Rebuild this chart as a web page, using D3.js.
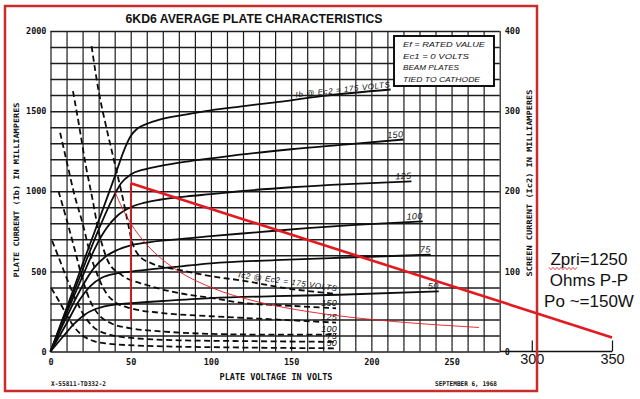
<!DOCTYPE html>
<html>
<head>
<meta charset="utf-8">
<script src="https://cdn.jsdelivr.net/npm/d3@7/dist/d3.min.js"></script>
<style>
  body { margin: 0; background: #fff; }
  svg { display: block; }
  .lbl { font-family: "DejaVu Sans Mono", monospace; font-weight: bold; fill: #111; }
  .hand { font-family: "Liberation Sans", Arial, sans-serif; font-style: italic; fill: #111; }
  .note { font-family: "Liberation Sans", Arial, sans-serif; fill: #111; }
</style>
</head>
<body>
<div id="chart"></div>
<script>
// axis ticks
var voltTicks = [0, 50, 100, 150, 200, 250];
var extTicks = [300, 350];
var ibTicks = [0, 500, 1000, 1500, 2000];
var ic2Ticks = [0, 100, 200, 300, 400];

// plate current curves, [plate volts, Ib mA]
var ib175 = [[0,0],[10,270],[20,545],[30,815],[40,1090],[46,1260],[50,1345],[54,1390],[60,1420],[68,1447],[85,1480],[100,1505],[118,1528],[140,1555],[170,1595],[212,1635]];
var ib150 = [[0,0],[10,255],[20,510],[30,760],[38,940],[44,1050],[50,1105],[58,1135],[68,1157],[85,1185],[100,1205],[118,1228],[150,1262],[185,1292],[220,1323]];
var ib125 = [[0,0],[10,240],[20,470],[28,650],[35,770],[42,850],[50,900],[58,927],[68,947],[85,968],[100,982],[118,1000],[150,1025],[185,1045],[225,1062]];
var ib100 = [[0,0],[10,215],[20,410],[27,520],[34,590],[42,635],[50,662],[60,680],[75,697],[100,720],[130,745],[160,770],[190,790],[232,812]];
var ib75  = [[0,0],[10,175],[18,320],[25,410],[32,460],[40,485],[50,498],[65,515],[80,530],[100,550],[140,570],[180,585],[237,604]];
var ib50  = [[0,0],[8,95],[15,175],[21,228],[28,265],[36,287],[50,301],[70,315],[100,333],[140,345],[180,354],[242,375]];
var ibLabels = ["Ib @ Ec2 = 175 VOLTS", "150", "125", "100", "75", "50"];

// screen current curves, [plate volts, Ic2 mA] on the right scale
var ic175 = [[25.6,381],[30,325],[35,278],[40,235],[45,192],[48,163],[51,136],[55,120],[63,110],[80,102],[100,94],[118,89],[150,78],[178,72]];
var ic150 = [[14,325],[18,280],[22,232],[26,192],[30,150],[33,128],[36,112],[44,96],[60,83],[80,73],[103,66],[118,61],[150,57],[178,54]];
var ic125 = [[6,273],[10,238],[15,195],[20,160],[25,120],[30,92],[35,72],[40,62],[50,54],[70,48],[100,44],[130,41],[178,36]];
var ic100 = [[5,200],[10,165],[15,128],[20,90],[25,62],[30,46],[38,35],[50,29],[70,25],[100,22],[140,21],[178,21]];
var ic75  = [[1,138],[5,118],[10,92],[15,68],[20,48],[26,32],[35,22],[50,17],[80,14],[120,13],[178,12]];
var ic50  = [[0.5,79],[5,64],[10,46],[15,30],[20,20],[27,13],[35,10],[60,7],[118,5],[178,4]];
var icLabels = ["Ic2 @ Ec2 = 175 VOLTS", "150", "125", "100", "75", "50"];

// red overlay: load line, 40 W dissipation curve, 50 V marker
var loadLine = [[50,1050],[350,88]];
var dissipation = [[40,1000],[45,890],[50,800],[60,667],[70,572],[80,500],[100,400],[130,308],[160,250],[200,200],[240,167],[267,150]];
var marker50 = [[50,1050],[50,190]];

var legendLines = ["Ef = RATED VALUE", "Ec1 = 0 VOLTS", "BEAM PLATES", "TIED TO CATHODE"];
var noteLines = ["Zpri=1250", "Ohms P-P", "Po ~=150W"];

//////////////////////////////////////////////////////////////////////////////

var W = 640, H = 399;
var svg = d3.select("#chart").append("svg").attr("width", W).attr("height", H);

var x = d3.scaleLinear().domain([0, 350]).range([50.5, 612]);
var y = d3.scaleLinear().domain([0, 2000]).range([351.5, 31]);
var y2 = d3.scaleLinear().domain([0, 400]).range([351.5, 31]);
var vMax = 280;

// grid
svg.append("g")
    .attr("transform", "translate(0," + y(0) + ")")
    .call(d3.axisBottom(x).tickValues(d3.range(0, vMax + 1, 10)).tickSize(y(2000) - y(0)).tickFormat(""))
    .call(function(g){ g.select(".domain").remove(); })
    .selectAll("line").attr("stroke", "#1c1c1c").attr("stroke-width", 1.2);

svg.append("g")
    .attr("transform", "translate(" + x(0) + ",0)")
    .call(d3.axisRight(y).tickValues(d3.range(0, 2001, 100)).tickSize(x(vMax) - x(0)).tickFormat(""))
    .call(function(g){ g.select(".domain").remove(); })
    .selectAll("line").attr("stroke", "#1c1c1c").attr("stroke-width", 1.5);

// tick labels
svg.append("g")
    .attr("transform", "translate(" + x(0) + ",0)")
    .call(d3.axisLeft(y).tickValues(ibTicks).tickFormat(d3.format("d")).tickSize(0).tickPadding(4))
    .call(function(g){ g.select(".domain").remove(); })
    .selectAll("text").attr("class", "lbl").style("font-size", "8.5px");

svg.append("g")
    .attr("transform", "translate(" + x(vMax) + ",0)")
    .call(d3.axisRight(y2).tickValues(ic2Ticks).tickFormat(d3.format("d")).tickSize(0).tickPadding(5))
    .call(function(g){ g.select(".domain").remove(); })
    .selectAll("text").attr("class", "lbl").style("font-size", "8.5px");

svg.append("g")
    .attr("transform", "translate(0," + y(0) + ")")
    .call(d3.axisBottom(x).tickValues(voltTicks).tickSize(0).tickPadding(7))
    .call(function(g){ g.select(".domain").remove(); })
    .selectAll("text").attr("class", "lbl").style("font-size", "8.5px");

// extension of the voltage axis
svg.append("line")
    .attr("x1", x(vMax)).attr("x2", x(350)).attr("y1", y(0)).attr("y2", y(0))
    .attr("stroke", "#111").attr("stroke-width", 1.3);
var ext = svg.append("g")
    .attr("transform", "translate(0," + y(0) + ")")
    .call(d3.axisBottom(x).tickValues(extTicks).tickSize(-11).tickPadding(2))
    .call(function(g){ g.select(".domain").remove(); });
ext.selectAll("line").attr("stroke", "#111").attr("stroke-width", 1.2);
ext.selectAll("text").attr("class", "note").style("font-size", "14.5px").attr("dy", "0.75em");

// curves
var line = d3.line().curve(d3.curveMonotoneX)
    .x(function(d){ return x(d[0]); })
    .y(function(d){ return y(d[1]); });
var line2 = d3.line().curve(d3.curveMonotoneX)
    .x(function(d){ return x(d[0]); })
    .y(function(d){ return y2(d[1]); });
var straight = d3.line()
    .x(function(d){ return x(d[0]); })
    .y(function(d){ return y(d[1]); });

var ibCurves = [ib175, ib150, ib125, ib100, ib75, ib50];
var icCurves = [ic175, ic150, ic125, ic100, ic75, ic50];

svg.selectAll("path.ib")
    .data(ibCurves)
    .enter().append("path")
    .attr("class", "ib")
    .attr("d", line)
    .attr("fill", "none").attr("stroke", "#0d0d0d").attr("stroke-width", 1.8);

svg.selectAll("path.ic")
    .data(icCurves)
    .enter().append("path")
    .attr("class", "ic")
    .attr("d", line2)
    .attr("fill", "none").attr("stroke", "#0d0d0d").attr("stroke-width", 1.8)
    .attr("stroke-dasharray", "6,3.5");

function endAngle(p, q, sy) {
  return Math.atan2(sy(q[1]) - sy(p[1]), x(q[0]) - x(p[0])) * 180 / Math.PI;
}

ibCurves.forEach(function(c, i){
  var q = c[c.length - 1], p = c[c.length - 3];
  var a = endAngle(p, q, y);
  svg.append("text")
      .attr("class", "hand")
      .attr("text-anchor", "end")
      .attr("transform", "translate(" + x(q[0]) + "," + (y(q[1]) - 2.5) + ") rotate(" + a + ")")
      .style("font-size", i === 0 ? "8px" : "9px")
      .attr("letter-spacing", i === 0 ? "0.6px" : "0.3px")
      .text(ibLabels[i]);
});

icCurves.forEach(function(c, i){
  var q = c[c.length - 1], p = c[c.length - 4];
  var a = i === 0 ? endAngle(p, q, y2) : 0;
  svg.append("text")
      .attr("class", "hand")
      .attr("text-anchor", "end")
      .attr("transform", "translate(" + (x(q[0]) + 1) + "," + (y2(q[1]) - 2.5) + ") rotate(" + a + ")")
      .style("font-size", i === 0 ? "8px" : "9px")
      .attr("letter-spacing", i === 0 ? "0.6px" : "0.3px")
      .text(icLabels[i]);
});

// red overlay
var red = "#e3191f";
svg.append("path").datum(dissipation).attr("d", line)
    .attr("fill", "none").attr("stroke", red).attr("stroke-width", 0.9);
svg.append("path").datum(marker50).attr("d", straight)
    .attr("fill", "none").attr("stroke", red).attr("stroke-width", 1.6);
svg.append("path").datum(loadLine).attr("d", straight)
    .attr("fill", "none").attr("stroke", red).attr("stroke-width", 2.6);

// title and axis titles
svg.append("text").attr("x", 254).attr("y", 23).attr("text-anchor", "middle")
    .attr("class", "note").style("font-weight", "bold").style("font-size", "13.5px")
    .attr("textLength", 257).attr("lengthAdjust", "spacingAndGlyphs")
    .text("6KD6 AVERAGE PLATE CHARACTERISTICS");

svg.append("text").attr("x", 276).attr("y", 380).attr("text-anchor", "middle")
    .attr("class", "lbl").style("font-size", "8px")
    .attr("textLength", 113).attr("lengthAdjust", "spacingAndGlyphs")
    .text("PLATE VOLTAGE IN VOLTS");

svg.append("text").attr("transform", "translate(19,190) rotate(-90)").attr("text-anchor", "middle")
    .attr("class", "lbl").style("font-size", "7.5px")
    .attr("textLength", 175).attr("lengthAdjust", "spacingAndGlyphs")
    .text("PLATE CURRENT (Ib) IN MILLIAMPERES");

svg.append("text").attr("transform", "translate(532,183) rotate(-90)").attr("text-anchor", "middle")
    .attr("class", "lbl").style("font-size", "7.5px")
    .attr("textLength", 187).attr("lengthAdjust", "spacingAndGlyphs")
    .text("SCREEN CURRENT (Ic2) IN MILLIAMPERES");

svg.append("text").attr("x", 51).attr("y", 386)
    .attr("class", "lbl").style("font-size", "6.5px")
    .attr("textLength", 55).attr("lengthAdjust", "spacingAndGlyphs")
    .text("X-55811-TD332-2");

svg.append("text").attr("x", 435).attr("y", 386)
    .attr("class", "lbl").style("font-size", "6.5px")
    .attr("textLength", 62).attr("lengthAdjust", "spacingAndGlyphs")
    .text("SEPTEMBER 6, 1968");

// conditions box
svg.append("rect").attr("x", 394).attr("y", 36).attr("width", 100).attr("height", 50)
    .attr("fill", "#fff").attr("stroke", "#111").attr("stroke-width", 2);
var legendLen = [82, 66, 56, 77];
legendLines.forEach(function(t, i){
  svg.append("text").attr("x", 403).attr("y", 47 + i * 11.6)
      .attr("class", "hand").style("font-size", "8px")
      .attr("textLength", legendLen[i]).attr("lengthAdjust", "spacingAndGlyphs")
      .text(t);
});

// red frame
svg.append("rect").attr("x", 5).attr("y", 6).attr("width", 532).attr("height", 385)
    .attr("fill", "none").attr("stroke", "#cc2b2b").attr("stroke-width", 2.5);

// design note
noteLines.forEach(function(t, i){
  svg.append("text").attr("x", 589).attr("y", 265 + i * 21).attr("text-anchor", "middle")
      .attr("class", "note").style("font-size", "17px")
      .text(t);
});
var squiggle = d3.range(0, 15).map(function(i){ return [549 + i * 2, 268.5 + (i % 2 ? 1.2 : -1.2)]; });
svg.append("path").attr("d", d3.line()(squiggle))
    .attr("fill", "none").attr("stroke", red).attr("stroke-width", 0.8);
</script>
</body>
</html>
